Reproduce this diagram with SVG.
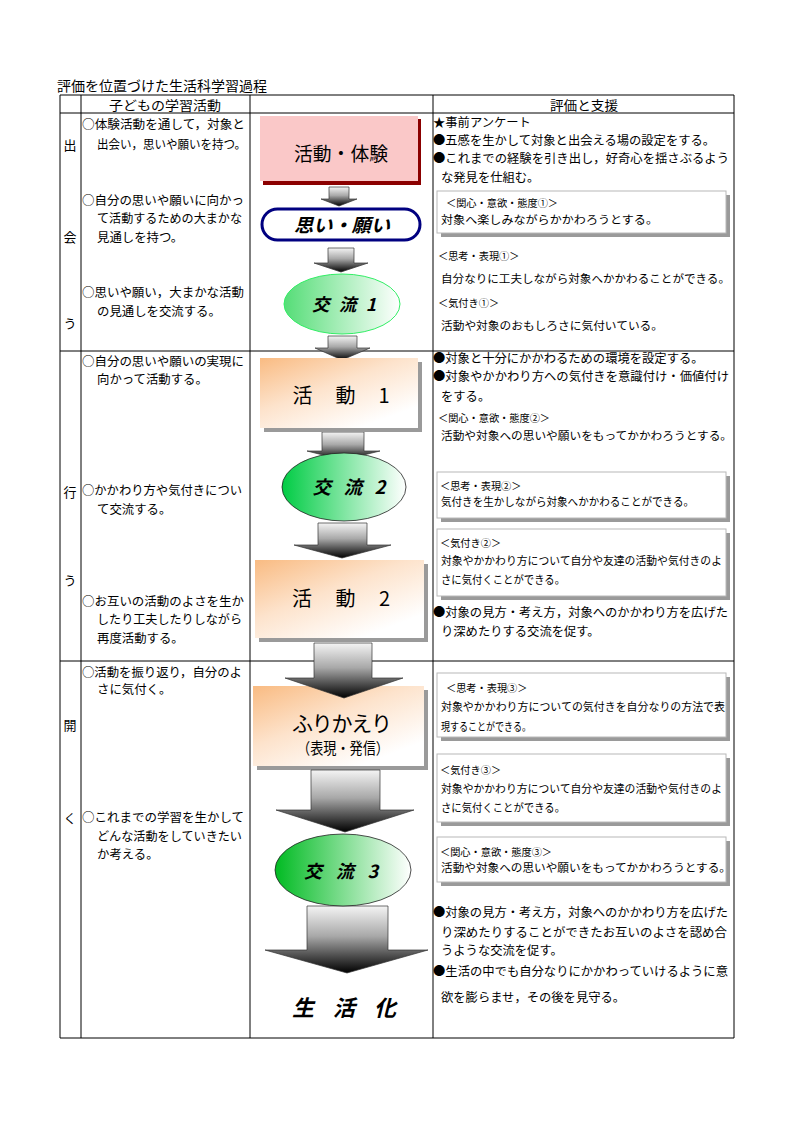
<svg xmlns="http://www.w3.org/2000/svg" width="794" height="1123" viewBox="0 0 794 1123">
<style>
text{font-family:"Noto Sans CJK JP","Noto Sans CJK SC",sans-serif;fill:#000}
.t{font-size:12.4px}
.r{font-size:12.3px}
.s{font-size:11.2px}
.l{font-size:10.2px}
.hd{font-size:13px}
.rl{font-size:13px}
.bi{font-weight:bold;font-style:italic}
.grid line{stroke:#000;stroke-width:1}
.arrow{fill:url(#ag);stroke:#333;stroke-width:0.7}
.shadow{fill:#9a9a9a}
.wbox{fill:#fff;stroke:#b8b8b8;stroke-width:1}
</style>
<defs>
<linearGradient id="ag" x1="0" y1="0" x2="0" y2="1">
<stop offset="0" stop-color="#f4f4f4"/>
<stop offset="0.45" stop-color="#a8a8a8"/>
<stop offset="0.72" stop-color="#555555"/>
<stop offset="1" stop-color="#000000"/>
</linearGradient>
<linearGradient id="og" x1="0" y1="0" x2="0.75" y2="0.9">
<stop offset="0" stop-color="#f9bb82"/>
<stop offset="0.5" stop-color="#fde3cc"/>
<stop offset="1" stop-color="#ffffff"/>
</linearGradient>
<linearGradient id="g1" x1="0" y1="0" x2="1" y2="0">
<stop offset="0" stop-color="#55dd77"/>
<stop offset="1" stop-color="#ffffff"/>
</linearGradient>
<linearGradient id="g2" x1="0" y1="0" x2="1" y2="0">
<stop offset="0" stop-color="#00cc44"/>
<stop offset="1" stop-color="#ffffff"/>
</linearGradient>
<linearGradient id="g3" x1="0" y1="0" x2="1" y2="0">
<stop offset="0" stop-color="#00bb22"/>
<stop offset="1" stop-color="#ffffff"/>
</linearGradient>
</defs>
<rect width="794" height="1123" fill="#fff"/>

<text x="57" y="90.5" font-size="13.5" textLength="210" lengthAdjust="spacingAndGlyphs">評価を位置づけた生活科学習過程</text>

<g id="table" class="grid">
<line x1="60" y1="95" x2="734" y2="95"/>
<line x1="60" y1="113" x2="734" y2="113"/>
<line x1="60" y1="351" x2="734" y2="351"/>
<line x1="60" y1="661" x2="734" y2="661"/>
<line x1="60" y1="1038" x2="734" y2="1038"/>
<line x1="60" y1="95" x2="60" y2="1038"/>
<line x1="81" y1="95" x2="81" y2="1038"/>
<line x1="250" y1="95" x2="250" y2="1038"/>
<line x1="433" y1="95" x2="433" y2="1038"/>
<line x1="734" y1="95" x2="734" y2="1038"/>
</g>

<g id="headers">
<text x="165" y="110" font-size="12.8" text-anchor="middle" textLength="112" lengthAdjust="spacingAndGlyphs">子どもの学習活動</text>
<text x="584" y="110" font-size="12.8" text-anchor="middle" textLength="68" lengthAdjust="spacingAndGlyphs">評価と支援</text>
</g>

<g id="row-labels" class="rl">
<text x="70" y="150" text-anchor="middle">出</text>
<text x="70" y="242" text-anchor="middle">会</text>
<text x="70" y="328" text-anchor="middle">う</text>
<text x="70" y="497" text-anchor="middle">行</text>
<text x="70" y="585" text-anchor="middle">う</text>
<text x="70" y="730" text-anchor="middle">開</text>
<text x="70" y="823" text-anchor="middle">く</text>
</g>

<g id="activities" class="t">
<text x="82" y="129" textLength="163" lengthAdjust="spacingAndGlyphs">○体験活動を通して，対象と</text>
<text x="97" y="149" textLength="149" lengthAdjust="spacingAndGlyphs">出会い，思いや願いを持つ。</text>
<text x="82" y="205" textLength="162" lengthAdjust="spacingAndGlyphs">○自分の思いや願いに向かっ</text>
<text x="97" y="223" textLength="145" lengthAdjust="spacingAndGlyphs">て活動するための大まかな</text>
<text x="97" y="242">見通しを持つ。</text>
<text x="82" y="297" textLength="162" lengthAdjust="spacingAndGlyphs">○思いや願い，大まかな活動</text>
<text x="97" y="316">の見通しを交流する。</text>
<text x="82" y="366" textLength="162" lengthAdjust="spacingAndGlyphs">○自分の思いや願いの実現に</text>
<text x="97" y="384">向かって活動する。</text>
<text x="82" y="495" textLength="160" lengthAdjust="spacingAndGlyphs">○かかわり方や気付きについ</text>
<text x="97" y="514">て交流する。</text>
<text x="82" y="606" textLength="162" lengthAdjust="spacingAndGlyphs">○お互いの活動のよさを生か</text>
<text x="97" y="624" textLength="145" lengthAdjust="spacingAndGlyphs">したり工夫したりしながら</text>
<text x="97" y="643">再度活動する。</text>
<text x="82" y="677" textLength="160" lengthAdjust="spacingAndGlyphs">○活動を振り返り，自分のよ</text>
<text x="97" y="694">さに気付く。</text>
<text x="82" y="822" textLength="162" lengthAdjust="spacingAndGlyphs">○これまでの学習を生かして</text>
<text x="97" y="841" textLength="145" lengthAdjust="spacingAndGlyphs">どんな活動をしていきたい</text>
<text x="97" y="859">か考える。</text>
</g>

<g id="connectors">
<polygon class="arrow" points="329,187 349,187 349,199 357,199 339,206 321,199 329,199"/>
<polygon class="arrow" points="328,248 354,248 354,263 368,263 341,272 314,263 328,263"/>
<polygon class="arrow" points="328,336 357,336 357,348 370,348 342,360 315,348 328,348"/>
<polygon class="arrow" points="322,432 364,432 364,451 380,451 343,460 307,451 322,451"/>
<polygon class="arrow" points="318,523 367,523 367,545 391,545 342,558 294,545 318,545"/>
</g>

<g id="n-katsudou-taiken">
<rect x="263" y="119" width="158" height="66" fill="#8b0000"/>
<rect x="260" y="116" width="158" height="65" fill="#fac8c8"/>
<text x="341" y="161" font-size="19" text-anchor="middle" textLength="94" lengthAdjust="spacingAndGlyphs">活動・体験</text>
</g>

<g id="n-omoi-negai">
<rect x="262" y="209" width="158" height="31" rx="15.5" fill="#fff" stroke="#000080" stroke-width="3"/>
<text x="342" y="232" font-size="18.5" class="bi" text-anchor="middle" textLength="96" lengthAdjust="spacingAndGlyphs">思い・願い</text>
</g>

<g id="n-kouryu1">
<ellipse cx="342" cy="304" rx="58" ry="30" fill="url(#g1)" stroke="#33ee66" stroke-width="1"/>
<text x="344" y="311" font-size="17.5" class="bi" text-anchor="middle" textLength="64" lengthAdjust="spacing">交流1</text>
</g>

<g id="n-katsudou1">
<rect x="264" y="362" width="158" height="70" class="shadow"/>
<rect x="260" y="358" width="158" height="70" fill="url(#og)"/>
<text x="341" y="403" font-size="20" text-anchor="middle" textLength="97" lengthAdjust="spacing">活　動　1</text>
</g>

<g id="n-kouryu2">
<ellipse cx="344" cy="487" rx="62" ry="34" fill="url(#g2)" stroke="#222" stroke-width="0.8"/>
<text x="349" y="494" font-size="18.5" class="bi" text-anchor="middle" textLength="73" lengthAdjust="spacing">交流2</text>
</g>

<g id="n-katsudou2">
<rect x="259" y="564" width="169" height="78" class="shadow"/>
<rect x="255" y="560" width="169" height="78" fill="url(#og)"/>
<text x="341" y="606" font-size="20" text-anchor="middle" textLength="98" lengthAdjust="spacing">活　動　2</text>
</g>

<g id="n-furikaeri">
<rect x="257" y="690" width="171" height="80" class="shadow"/>
<rect x="253" y="686" width="171" height="80" fill="url(#og)"/>
<text x="342" y="731" font-size="21" text-anchor="middle" textLength="100" lengthAdjust="spacing">ふりかえり</text>
<text x="343" y="754" font-size="15.5" text-anchor="middle" textLength="92" lengthAdjust="spacingAndGlyphs">（表現・発信）</text>
</g>

<g id="connectors-lower">
<polygon class="arrow" points="314,643 372,643 372,678 403,678 344,698 285,678 314,678"/>
<polygon class="arrow" points="311,770 380,770 380,810 414,810 345,832 276,810 311,810"/>
<polygon class="arrow" points="307,906 388,906 388,950 428,950 347,973 265,950 307,950"/>
</g>

<g id="n-kouryu3">
<ellipse cx="343" cy="870" rx="68" ry="36" fill="url(#g3)" stroke="#222" stroke-width="0.8"/>
<text x="341" y="878" font-size="18" class="bi" text-anchor="middle" textLength="74" lengthAdjust="spacing">交流3</text>
</g>

<g id="n-seikatsuka">
<text x="344" y="1016" font-size="22" class="bi" text-anchor="middle" textLength="104" lengthAdjust="spacing">生　活　化</text>
</g>

<g id="support" class="r">
<text x="433" y="127">★事前アンケート</text>
<text x="433" y="145">●五感を生かして対象と出会える場の設定をする。</text>
<text x="433" y="163" textLength="296" lengthAdjust="spacingAndGlyphs">●これまでの経験を引き出し，好奇心を揺さぶるよう</text>
<text x="441" y="182">な発見を仕組む。</text>
<text x="433" y="363">●対象と十分にかかわるための環境を設定する。</text>
<text x="433" y="381" textLength="296" lengthAdjust="spacingAndGlyphs">●対象やかかわり方への気付きを意識付け・価値付け</text>
<text x="441" y="401">をする。</text>
<text x="433" y="617" textLength="295" lengthAdjust="spacingAndGlyphs">●対象の見方・考え方，対象へのかかわり方を広げた</text>
<text x="441" y="636">り深めたりする交流を促す。</text>
<text x="433" y="917" textLength="295" lengthAdjust="spacingAndGlyphs">●対象の見方・考え方，対象へのかかわり方を広げた</text>
<text x="441" y="937" textLength="286" lengthAdjust="spacingAndGlyphs">り深めたりすることができたお互いのよさを認め合</text>
<text x="441" y="955">うような交流を促す。</text>
<text x="433" y="976" textLength="295" lengthAdjust="spacingAndGlyphs">●生活の中でも自分なりにかかわっていけるように意</text>
<text x="441" y="1002">欲を膨らませ，その後を見守る。</text>
</g>

<g id="eval-1a">
<rect x="441" y="195" width="289" height="42" class="shadow"/>
<rect x="437" y="191" width="289" height="42" class="wbox"/>
<text x="446" y="207" class="l">＜関心・意欲・態度①＞</text>
<text x="441" y="224" class="s" textLength="217" lengthAdjust="spacingAndGlyphs">対象へ楽しみながらかかわろうとする。</text>
</g>

<g id="eval-1b">
<text x="438" y="260" class="l">＜思考・表現①＞</text>
<text x="441" y="283" class="s" textLength="289" lengthAdjust="spacingAndGlyphs">自分なりに工夫しながら対象へかかわることができる。</text>
</g>

<g id="eval-1c">
<text x="438" y="307" class="l">＜気付き①＞</text>
<text x="441" y="330" class="s" textLength="222" lengthAdjust="spacingAndGlyphs">活動や対象のおもしろさに気付いている。</text>
</g>

<g id="eval-2a">
<text x="438" y="422" class="l">＜関心・意欲・態度②＞</text>
<text x="441" y="440" class="s" textLength="291" lengthAdjust="spacingAndGlyphs">活動や対象への思いや願いをもってかかわろうとする。</text>
</g>

<g id="eval-2b">
<rect x="441" y="476" width="289" height="46" class="shadow"/>
<rect x="437" y="472" width="289" height="46" class="wbox"/>
<text x="440" y="490" class="l">＜思考・表現②＞</text>
<text x="441" y="506" class="s" textLength="253" lengthAdjust="spacingAndGlyphs">気付きを生かしながら対象へかかわることができる。</text>
</g>

<g id="eval-2c">
<rect x="441" y="533" width="289" height="67" class="shadow"/>
<rect x="437" y="529" width="289" height="67" class="wbox"/>
<text x="440" y="547" class="l">＜気付き②＞</text>
<text x="441" y="565" class="s" textLength="281" lengthAdjust="spacingAndGlyphs">対象やかかわり方について自分や友達の活動や気付きのよ</text>
<text x="441" y="584" class="s" textLength="124" lengthAdjust="spacingAndGlyphs">さに気付くことができる。</text>
</g>

<g id="eval-3a">
<rect x="441" y="677" width="289" height="64" class="shadow"/>
<rect x="437" y="673" width="289" height="64" class="wbox"/>
<text x="446" y="692" class="l">＜思考・表現③＞</text>
<text x="441" y="711" class="s" textLength="284" lengthAdjust="spacingAndGlyphs">対象やかかわり方についての気付きを自分なりの方法で表</text>
<text x="441" y="731" class="s" textLength="90" lengthAdjust="spacingAndGlyphs">現することができる。</text>
</g>

<g id="eval-3b">
<rect x="441" y="758" width="289" height="68" class="shadow"/>
<rect x="437" y="754" width="289" height="68" class="wbox"/>
<text x="440" y="774" class="l">＜気付き③＞</text>
<text x="441" y="793" class="s" textLength="281" lengthAdjust="spacingAndGlyphs">対象やかかわり方について自分や友達の活動や気付きのよ</text>
<text x="441" y="812" class="s" textLength="124" lengthAdjust="spacingAndGlyphs">さに気付くことができる。</text>
</g>

<g id="eval-3c">
<rect x="441" y="841" width="289" height="45" class="shadow"/>
<rect x="437" y="837" width="289" height="45" class="wbox"/>
<text x="440" y="856" class="l">＜関心・意欲・態度③＞</text>
<text x="441" y="872" class="s" textLength="290" lengthAdjust="spacingAndGlyphs">活動や対象への思いや願いをもってかかわろうとする。</text>
</g>
</svg>
